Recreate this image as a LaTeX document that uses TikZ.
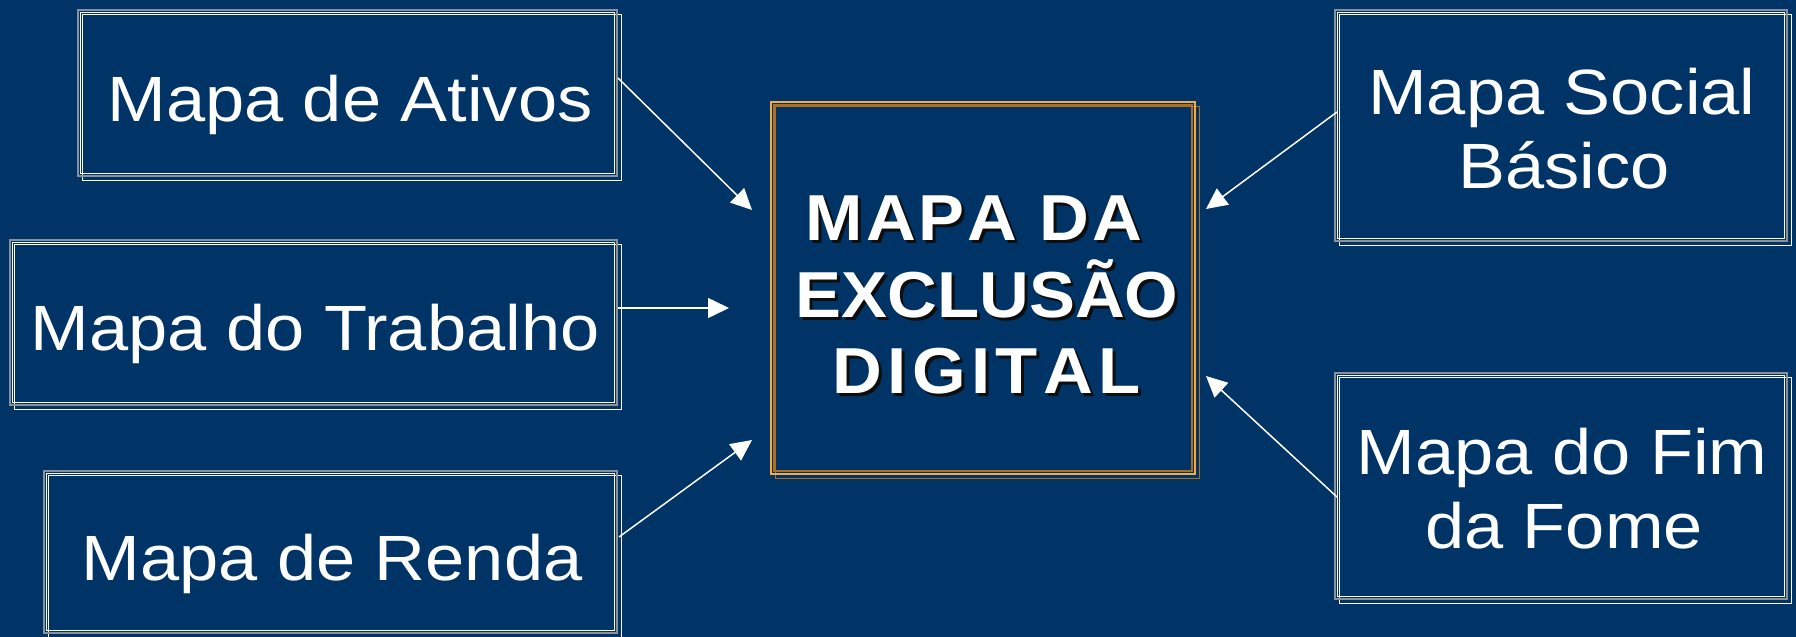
\documentclass[tikz,border=0pt]{standalone}
\usepackage{fontspec}
\setmainfont{Liberation Sans}
\newfontfamily\boxfont[FakeStretch=1.1]{Liberation Sans}
\newfontfamily\titlefont[FakeStretch=1.06]{Liberation Sans}
\usetikzlibrary{arrows.meta}
\definecolor{bg}{HTML}{003366}
\definecolor{framegray}{HTML}{8C9099}
\definecolor{gold}{HTML}{F5AC45}
\definecolor{golddark}{HTML}{B06E1E}
\definecolor{shadowtxt}{HTML}{0E0E0E}
\newcommand\dgsp{\kern5.3pt}
\newcommand\mpsp{\kern3pt}
\begin{document}
\begin{tikzpicture}[x=1pt,y=-1pt,
  mapbox/.style={rectangle, draw=none, inner sep=0pt, outer sep=0pt},
  maptext/.style={text=white, font=\boxfont\fontsize{64}{74}\selectfont, anchor=base, inner sep=0pt},
  titletext/.style={text=white, font=\titlefont\bfseries\fontsize{65}{77}\selectfont, anchor=base, inner sep=0pt},
  titleshadow/.style={titletext, text=shadowtxt},
  conn/.style={white, line width=1.5pt, -{Triangle[length=21pt,width=20pt]}}
]
\useasboundingbox (0,0) rectangle (1796,637);
\fill[bg] (0,0) rectangle (1796,637);

% boxes
\node[mapbox, minimum width=539pt, minimum height=166pt] (ativos) at (347.5,93) {};
\node[mapbox, minimum width=607pt, minimum height=165pt] (trab) at (313.5,322.5) {};
\node[mapbox, minimum width=573pt, minimum height=162pt] (renda) at (330.5,552) {};
\node[mapbox, minimum width=452pt, minimum height=231pt] (social) at (1561,125.5) {};
\node[mapbox, minimum width=452pt, minimum height=226pt] (fome) at (1561,486) {};
\node[mapbox, minimum width=424pt, minimum height=372pt] (mapa) at (983,288) {};

% frames
\foreach \n in {ativos,trab,renda,social,fome}{
  \draw[white, line width=1.2pt] ([shift={(4.5,4.5)}]\n.north west) rectangle ([shift={(4.5,4.5)}]\n.south east);
  \draw[framegray, line width=1.4pt] (\n.north west) rectangle (\n.south east);
  \draw[white, line width=1.2pt] ([shift={(2.5,2.5)}]\n.north west) rectangle ([shift={(-2.5,-2.5)}]\n.south east);
}
\draw[golddark, line width=1.6pt] ([shift={(4.5,4.5)}]mapa.north west) rectangle ([shift={(4.5,4.5)}]mapa.south east);
\draw[gold, line width=2pt] (mapa.north west) rectangle (mapa.south east);
\draw[golddark, line width=1.4pt] ([shift={(3,3)}]mapa.north west) rectangle ([shift={(-3,-3)}]mapa.south east);

% texts
\node[maptext] (ativosT) at (350,121) {Mapa de Ativos};
\node[maptext] (trabT) at (315,350) {Mapa do Trabalho};
\node[maptext] (rendaT) at (332,580) {Mapa de Renda};
\node[maptext] (socialA) at (1562,114) {Mapa Social};
\node[maptext] (socialB) at (1564,188) {Básico};
\node[maptext] (fomeA) at (1562,474) {Mapa do Fim};
\node[maptext] (fomeB) at (1564,548) {da Fome};

\node[titleshadow] (titleAs) at (977,243) {M\mpsp A\mpsp P\mpsp A\mpsp{} D\mpsp A};
\node[titleshadow] (titleBs) at (990,320) {EXCLUSÃO};
\node[titleshadow] (titleCs) at (989.5,396) {D\dgsp I\dgsp G\dgsp I\dgsp T\dgsp A\dgsp L};
\node[titletext] (titleA) at (974,240) {M\mpsp A\mpsp P\mpsp A\mpsp{} D\mpsp A};
\node[titletext] (titleB) at (987,317) {EXCLUSÃO};
\node[titletext] (titleC) at (986.5,393) {D\dgsp I\dgsp G\dgsp I\dgsp T\dgsp A\dgsp L};

% connectors
\coordinate (t1) at (752,210);
\coordinate (t2) at (729,308);
\coordinate (t3) at (752,440);
\coordinate (t4) at (1206,209);
\coordinate (t5) at (1206,376);
\draw[conn] ([shift={(1,-15)}]ativos.east) -- (t1);
\draw[conn] ([shift={(1,-14.5)}]trab.east) -- (t2);
\draw[conn] ([shift={(2,-15)}]renda.east) -- (t3);
\draw[conn] ([shift={(2,-13.5)}]social.west) -- (t4);
\draw[conn] ([shift={(2,11)}]fome.west) -- (t5);
\end{tikzpicture}
\end{document}
